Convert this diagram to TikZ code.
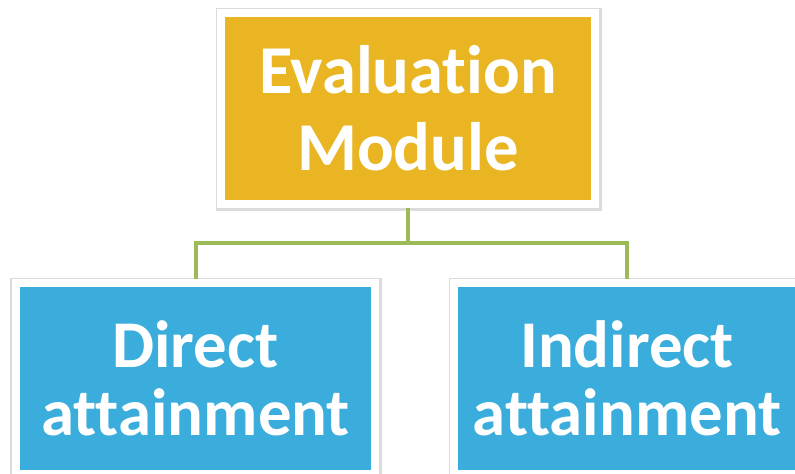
\documentclass[tikz,border=0pt]{standalone}
\usepackage{fontspec}
\setmainfont{Carlito}[Ligatures={NoCommon}]
\usetikzlibrary{shapes,positioning,shadows,calc}
\definecolor{evalgold}{RGB}{233,181,34}
\definecolor{attblue}{RGB}{58,173,220}
\definecolor{linkgreen}{RGB}{155,187,89}

\begin{document}
\begin{tikzpicture}[node distance=1.58cm,
		box/.style={rectangle, draw=white, line width=0.16cm, outer sep=0pt, minimum height=3.82cm, align=center, text=white, preaction={draw=black!14, line width=0.24cm, transform canvas={xshift=0.01cm, yshift=-0.02cm}}},
		link/.style={draw=linkgreen, line width=0.08cm}]
				\useasboundingbox (0,0) rectangle (15.9,9.46);
				\node[box, fill=evalgold, minimum width=7.48cm, font=\fontsize{39}{44}\selectfont\bfseries] (eval) at (8.16,7.29) {Evaluation\\Module};
				\node[box, fill=attblue, minimum width=7.18cm, below=of eval, xshift=-4.25cm, font=\fontsize{38}{38.7}\selectfont\bfseries] (direct) {Direct\\attainment};
				\node[box, fill=attblue, minimum width=6.92cm, below=of eval, xshift=4.38cm, font=\fontsize{38}{38.7}\selectfont\bfseries] (indirect) {Indirect\\attainment};
				
				\coordinate (split) at ($(eval.south)+(0,-0.78)$);
				\draw[link] ([yshift=-0.08cm]eval.south) -- (split) -| ([yshift=0.08cm]direct.north);
				\draw[link] (split) -| ([yshift=0.08cm]indirect.north);
			\end{tikzpicture}
\end{document}
